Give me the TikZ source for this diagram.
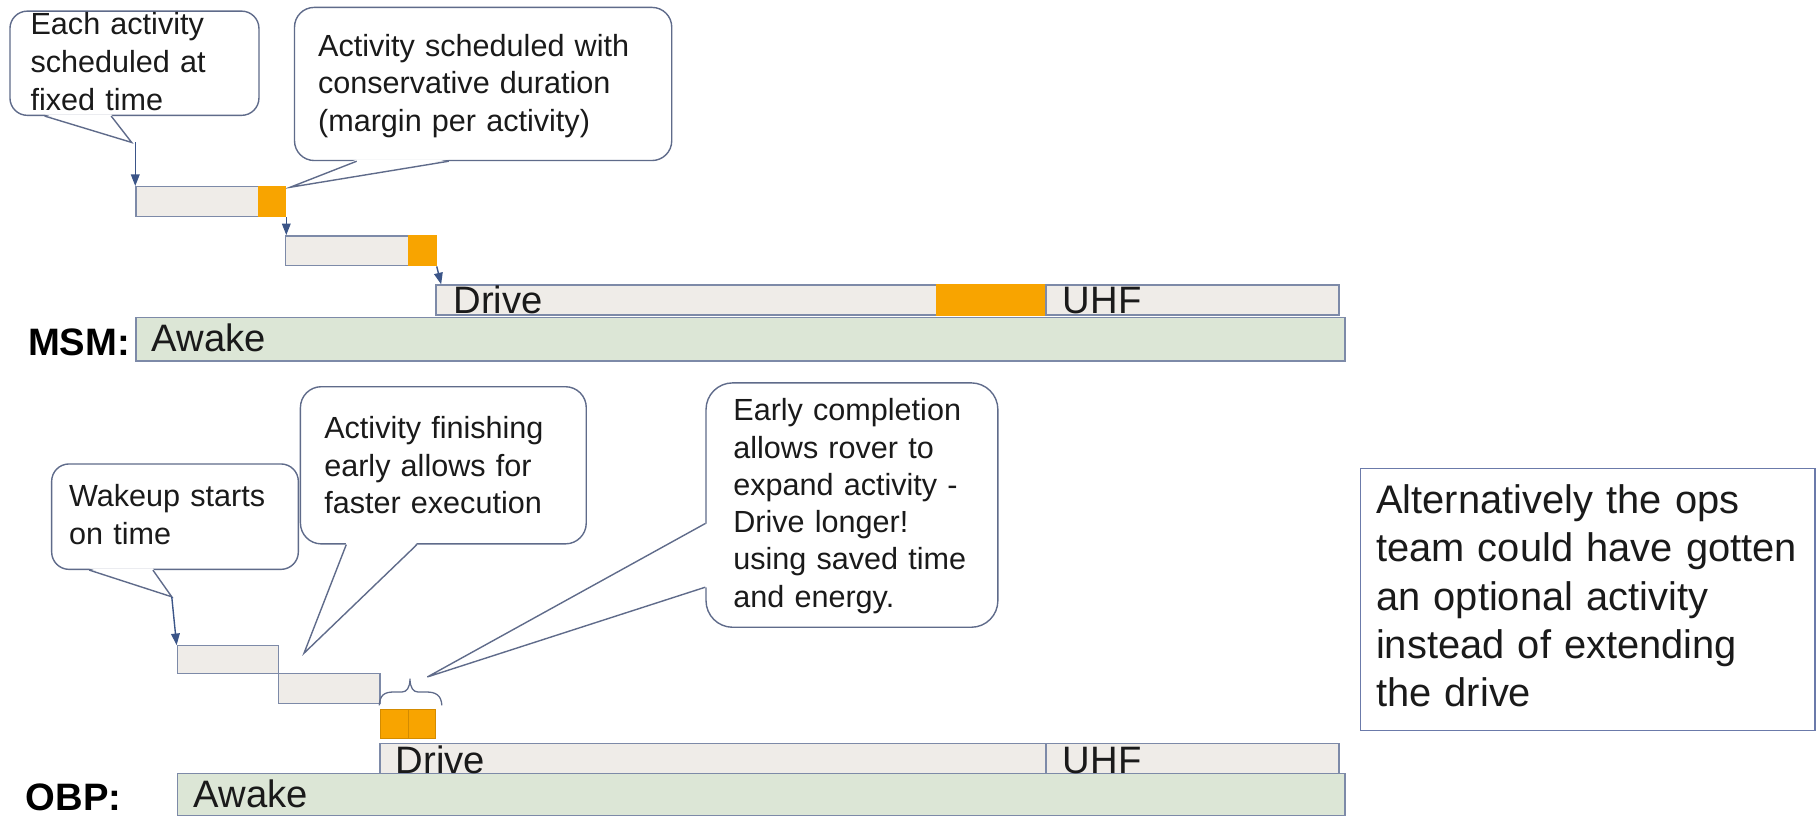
\documentclass[tikz,border=0pt]{standalone}
\usepackage{fontspec}
\setmainfont{Liberation Sans}
\usetikzlibrary{calc,arrows.meta}
\definecolor{barfill}{HTML}{EFECE8}
\definecolor{barline}{HTML}{7D8AA8}
\definecolor{awakefill}{HTML}{DCE6D6}
\definecolor{myorange}{HTML}{F8A400}
\definecolor{cline}{HTML}{5F6B8A}
\definecolor{arrowc}{HTML}{3B5588}
\definecolor{boxline}{HTML}{6B7AAA}
\definecolor{txt}{HTML}{1A1A1A}
\begin{document}
\begin{tikzpicture}[x=1pt,y=-1pt,
  bar/.style={anchor=north west, inner sep=0, fill=barfill, draw=barline, line width=1.2pt},
  awake/.style={bar, fill=awakefill},
  orng/.style={anchor=north west, inner sep=0, fill=myorange, draw=myorange, line width=1.2pt},
  orngsq/.style={anchor=north west, inner sep=0, fill=myorange, draw=myorange!85!black, line width=0.6pt},
  callout/.style={anchor=north west, inner sep=0, fill=white, draw=cline, line width=1.2pt},
  tailline/.style={draw=cline, line width=1.2pt, line join=miter},
  ctext/.style={anchor=base west, inner sep=0, text width=400pt, align=left, text=txt, font=\fontsize{26.4}{32.5}\selectfont},
  btext/.style={anchor=base west, inner sep=0, text=txt, font=\fontsize{33}{36}\selectfont},
  rowlbl/.style={anchor=base west, inner sep=0, text=black, font=\bfseries\fontsize{33}{36}\selectfont},
  arr/.style={draw=arrowc, line width=1.2pt, -{Triangle[length=10pt,width=7.5pt]}}
]
\useasboundingbox[fill=white] (0,0) rectangle (1568,704);

% ---------- MSM callouts ----------
\node[callout, rounded corners=15pt, minimum width=215pt, minimum height=90pt] (c1) at (8,9) {};
\coordinate (t1) at (113.7,123);
\fill[white] ($(c1.south west)+(30.5,-1.5)$) -- (t1) -- ($(c1.south west)+(88,-1.5)$) -- cycle;
\draw[tailline] ($(c1.south west)+(30.5,0)$) -- (t1) -- ($(c1.south west)+(88,0)$);
\node[ctext] (c1t) at (26.2,30.2) {Each activity\\scheduled at\\fixed time};

\node[callout, rounded corners=17pt, minimum width=325.7pt, minimum height=132.2pt] (c2) at (253.7,5.8) {};
\coordinate (t2) at (250.5,161.7);
\fill[white] ($(c2.south west)+(54.3,-1.5)$) -- (t2) -- ($(c2.south west)+(133.8,-1.5)$) -- cycle;
\draw[tailline] ($(c2.south west)+(54.3,0)$) -- (t2) -- ($(c2.south west)+(133.8,0)$);
\node[ctext] (c2t) at (274.5,48.5) {Activity scheduled with\\conservative duration\\(margin per activity)};

% ---------- MSM bars ----------
\node[bar, minimum width=129.2pt, minimum height=25.9pt] (b1) at (116.8,160.6) {};
\node[orng, minimum width=23.2pt, minimum height=25.9pt] (o1) at (222.8,160.6) {};
\node[bar, minimum width=129.9pt, minimum height=25.8pt] (b2) at (246,203) {};
\node[orng, minimum width=23.9pt, minimum height=25.8pt] (o2) at (352,203) {};
\node[bar, minimum width=526.5pt, minimum height=25.9pt] (d1) at (375.9,245.5) {};
\node[orng, minimum width=94.4pt, minimum height=25.9pt] (o3) at (808,245.5) {};
\node[bar, minimum width=253pt, minimum height=25.9pt] (u1) at (902.4,245.5) {};
\node[awake, minimum width=1043.8pt, minimum height=37.4pt] (a1) at (116.8,273.6) {};

\node[btext] (d1t) at (391.3,270.3) {Drive};
\node[btext] (u1t) at (917.5,270.3) {UHF};
\node[btext] (a1t) at (131,303.7) {Awake};
\node[rowlbl] (msm) at (24,306.6) {MSM:};

\draw[arr] (t1 -| b1.north west) -- (b1.north west);
\draw[arr] (o1.south east) -- (o1.south east |- b2.north);
\draw[arr] (o2.south east) -- ($(d1.north west)+(5,0)$);

% ---------- OBP callouts ----------
\node[callout, rounded corners=15pt, minimum width=213pt, minimum height=91pt] (c3) at (44,400) {};
\coordinate (t3) at (148.3,515.3);
\fill[white] ($(c3.south west)+(33,-1.5)$) -- (t3) -- ($(c3.south west)+(88,-1.5)$) -- cycle;
\draw[tailline] ($(c3.south west)+(33,0)$) -- (t3) -- ($(c3.south west)+(88,0)$);
\node[ctext] (c3t) at (59.5,437.5) {Wakeup starts\\on time};

\node[callout, rounded corners=18pt, minimum width=246.8pt, minimum height=135.7pt] (c4) at (258.8,333.3) {};
\coordinate (t4) at (262.5,564);
\fill[white] ($(c4.south west)+(40.2,-1.5)$) -- (t4) -- ($(c4.south west)+(101.2,-1.5)$) -- cycle;
\draw[tailline] ($(c4.south west)+(40.2,0)$) -- (t4) -- ($(c4.south west)+(101.2,0)$);
\node[ctext] (c4t) at (279.8,378.5) {Activity finishing\\early allows for\\faster execution};

\node[callout, rounded corners=23pt, minimum width=252pt, minimum height=211pt] (c5) at (609,330) {};
\coordinate (t5) at (369,584.5);
\fill[white] ($(c5.north west)+(1.5,122)$) -- (t5) -- ($(c5.north west)+(1.5,177)$) -- cycle;
\draw[tailline] ($(c5.north west)+(0,122)$) -- (t5) -- ($(c5.north west)+(0,177)$);
\node[ctext, font=\fontsize{26.4}{32.2}\selectfont] (c5t) at (633,363.3) {Early completion\\allows rover to\\expand activity -\\Drive longer!\\using saved time\\and energy.};

% ---------- OBP bars ----------
\node[bar, minimum width=87.5pt, minimum height=24pt] (p1) at (152.5,557) {};
\node[bar, minimum width=87.5pt, minimum height=26pt] (p2) at (240,581) {};
\node[orngsq, minimum width=24pt, minimum height=25pt] (q1) at (328,612) {};
\node[orngsq, minimum width=23.6pt, minimum height=25pt] (q2) at (352,612) {};
\node[bar, minimum width=574.9pt, minimum height=26pt] (d2) at (327.5,641.5) {};
\node[bar, minimum width=253pt, minimum height=26pt] (u2) at (902.4,641.5) {};
\node[awake, minimum width=1008.1pt, minimum height=35.8pt] (a2) at (152.5,667.5) {};

\node[btext] (d2t) at (341.5,667.5) {Drive};
\node[btext] (u2t) at (917.5,667.5) {UHF};
\node[btext] (a2t) at (167,697) {Awake};
\node[rowlbl] (obp) at (22,699.5) {OBP:};

\draw[arr] (t3) -- (p1.north west);

% brace over the saved time
\draw[draw=cline, line width=1.1pt]
  (327.5,609) .. controls (328,600) and (332,597.5) .. (340,597.5) -- (347,597.5)
  .. controls (351,597.5) and (354,594) .. (354,586)
  .. controls (354,594) and (357,597.5) .. (361,597.5) -- (368,597.5)
  .. controls (376,597.5) and (381,600) .. (381.5,609);

% ---------- right note ----------
\node[anchor=north west, inner sep=0, draw=boxline, line width=1.2pt, minimum width=392.5pt, minimum height=226pt] (r1) at (1174,404) {};
\node[ctext, font=\fontsize{34.4}{41.7}\selectfont] (r1t) at (1188,443.5) {Alternatively the ops\\team could have gotten\\an optional activity\\instead of extending\\the drive};
\end{tikzpicture}
\end{document}
